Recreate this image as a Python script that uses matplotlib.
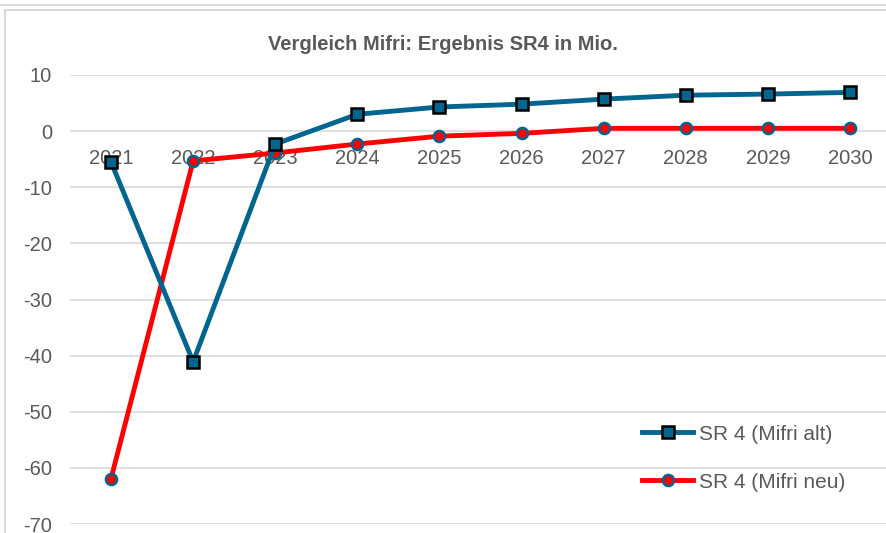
import matplotlib
matplotlib.use("Agg")
import matplotlib.pyplot as plt
from matplotlib.patches import Rectangle

years = ["2021", "2022", "2023", "2024", "2025", "2026", "2027", "2028", "2029", "2030"]
mifri_alt = [-5.5, -41.1, -2.3, 3.0, 4.3, 4.8, 5.7, 6.4, 6.6, 6.9]
mifri_neu = [-61.9, -5.3, -3.9, -2.3, -0.9, -0.4, 0.5, 0.5, 0.5, 0.5]
yticks = [10, 0, -10, -20, -30, -40, -50, -60, -70]

plt.rcParams['font.family'] = ['Liberation Sans', 'DejaVu Sans']
W, H = 887, 533
fig = plt.figure(figsize=(W / 100, H / 100), dpi=100)

# outer frames
fig.patches.append(Rectangle((-0.01, 1 - 5 / H), 1.02, 0.05, transform=fig.transFigure,
                             facecolor='white', edgecolor='#D9D9D9', lw=1.5, zorder=-10))
fig.patches.append(Rectangle((5 / W, -0.05), 1.05, 1 - 10 / H + 0.05, transform=fig.transFigure,
                             facecolor='white', edgecolor='#D9D9D9', lw=1.5, zorder=-10))

left, right = 70 / W, 891 / W
bottom, top = 1 - 524 / H, 1 - 75 / H
ax = fig.add_axes([left, bottom, right - left, top - bottom])
ax.set_facecolor('none')

x = list(range(len(years)))
blue = '#00658F'
ax.plot(x, mifri_alt, color=blue, lw=3.5, marker='s', ms=9, mfc=blue, mec='black', mew=1.8,
        label='SR 4 (Mifri alt)', zorder=4)
ax.plot(x, mifri_neu, color='#FF0000', lw=3.5, marker='o', ms=8, mfc='#FF0000', mec=blue, mew=1.8,
        label='SR 4 (Mifri neu)', zorder=3)

ax.set_xlim(-0.5, len(years) - 0.5)
ax.set_ylim(-70, 10)
ax.set_yticks(yticks)
ax.set_yticklabels([str(v) for v in yticks])
ax.grid(axis='y', color='#D9D9D9', lw=1.2)
ax.set_axisbelow(True)
for s in ['left', 'right', 'top']:
    ax.spines[s].set_visible(False)
ax.spines['bottom'].set_position(('data', 0))
ax.spines['bottom'].set_visible(False)
ax.set_xticks(x)
ax.set_xticklabels(years)
ax.tick_params(axis='x', length=0, pad=13, labelsize=14.5, labelcolor='#595959')
ax.tick_params(axis='y', length=0, pad=13, labelsize=14.5, labelcolor='#595959')

fig.text(443 / W, 1 - 44 / H, 'Vergleich Mifri: Ergebnis SR4 in Mio.', ha='center', va='center',
         fontsize=14.5, fontweight='bold', color='#595959')

leg = ax.legend(loc='lower left', bbox_to_anchor=(634 / W, 1 - 500 / H), bbox_transform=fig.transFigure,
                frameon=False, fontsize=15, labelspacing=1.4, handlelength=2.45, handletextpad=0.25,
                borderaxespad=0)
for t in leg.get_texts():
    t.set_color('#595959')

fig.savefig('out.png', dpi=100)
